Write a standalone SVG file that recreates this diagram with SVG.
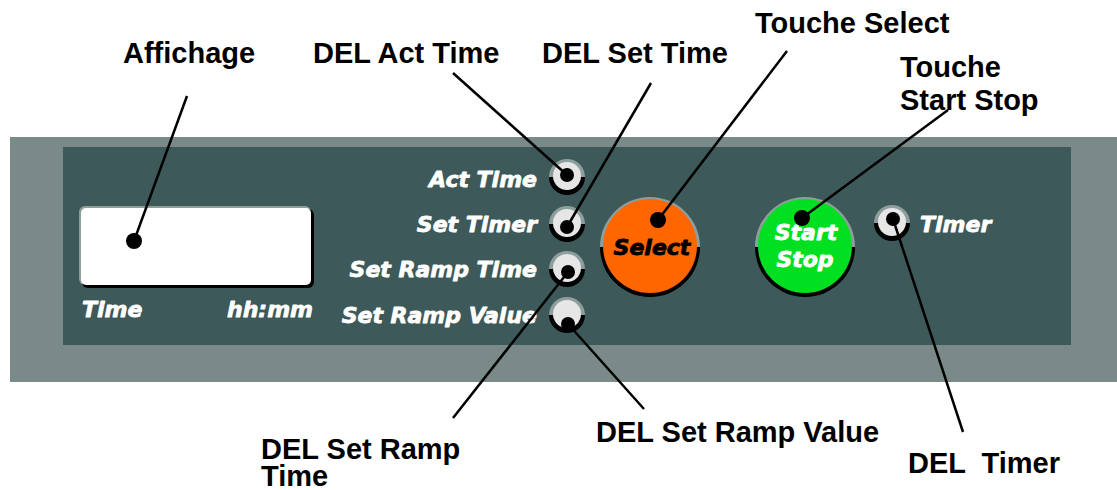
<svg xmlns="http://www.w3.org/2000/svg" width="1117" height="490" viewBox="0 0 1117 490">
<style>
.lbl{font-family:"Liberation Sans",Arial,sans-serif;font-weight:bold;font-size:29px;fill:#000}
.pl{font-family:"DejaVu Sans",sans-serif;font-weight:bold;font-style:oblique;font-size:22px;fill:#fff;stroke:#fff;stroke-width:0.8;stroke-linejoin:round}
.dk{fill:#000;stroke:#000}
.ring{fill:#8e9e9c}
.shadow{fill:#000}
.led{fill:#e6e6e6}
.ld{stroke:#000;stroke-width:2.5;fill:none}
.dot{fill:#000}
</style>
<rect x="0" y="0" width="1117" height="490" fill="#fff"/>
<g id="panel">
<rect x="10" y="137" width="1107" height="245" fill="#798a89"/>
<rect x="63" y="147" width="1008" height="198" fill="#3e5959"/>
</g>
<g id="display">
<rect x="79" y="206" width="232" height="79" rx="6" fill="#8e9e9c"/>
<rect x="82" y="209" width="232" height="79" rx="6" fill="#000"/>
<rect x="81" y="208" width="230" height="77" rx="5" fill="#fff"/>
<text class="pl" x="82" y="317">Time</text>
<text class="pl" x="313" y="317" text-anchor="end">hh:mm</text>
</g>
<g id="led-act-time">
<path class="ring" d="M549 177 A18 18 0 0 1 585 177 Z"/>
<path class="shadow" d="M549 177 A18 18 0 0 0 585 177 Z"/>
<circle class="led" cx="567" cy="176" r="14"/>
<text class="pl" x="537" y="187" text-anchor="end">Act Time</text>
</g>
<g id="led-set-timer">
<path class="ring" d="M549 224 A18 18 0 0 1 585 224 Z"/>
<path class="shadow" d="M549 224 A18 18 0 0 0 585 224 Z"/>
<circle class="led" cx="567" cy="223" r="14"/>
<text class="pl" x="537" y="232" text-anchor="end">Set Timer</text>
</g>
<g id="led-set-ramp-time">
<path class="ring" d="M549 269 A18 18 0 0 1 585 269 Z"/>
<path class="shadow" d="M549 269 A18 18 0 0 0 585 269 Z"/>
<circle class="led" cx="567" cy="268" r="14"/>
<text class="pl" x="537" y="277" text-anchor="end">Set Ramp Time</text>
</g>
<g id="led-set-ramp-value">
<path class="ring" d="M549 315 A18 18 0 0 1 585 315 Z"/>
<path class="shadow" d="M549 315 A18 18 0 0 0 585 315 Z"/>
<circle class="led" cx="567" cy="314" r="14"/>
<text class="pl" x="537" y="323" text-anchor="end">Set Ramp Value</text>
</g>
<g id="btn-select">
<path class="ring" d="M600 247 A50 50 0 0 1 700 247 Z"/>
<path class="shadow" d="M600 247 A50 50 0 0 0 700 247 Z"/>
<circle cx="650" cy="246" r="47" fill="#ff6600"/>
<text class="pl dk" x="652" y="255" text-anchor="middle">Select</text>
</g>
<g id="btn-start-stop">
<path class="ring" d="M755 247 A50 50 0 0 1 855 247 Z"/>
<path class="shadow" d="M755 247 A50 50 0 0 0 855 247 Z"/>
<circle cx="805" cy="246" r="47" fill="#00e020"/>
<text class="pl" x="806" y="240" text-anchor="middle">Start</text>
<text class="pl" x="805" y="267" text-anchor="middle">Stop</text>
</g>
<g id="led-timer">
<path class="ring" d="M874 223 A18 18 0 0 1 910 223 Z"/>
<path class="shadow" d="M874 223 A18 18 0 0 0 910 223 Z"/>
<circle class="led" cx="892" cy="222" r="14"/>
<text class="pl" x="920" y="232">Timer</text>
</g>
<g id="labels">
<text class="lbl" x="123" y="63">Affichage</text>
<text class="lbl" x="313" y="63">DEL Act Time</text>
<text class="lbl" x="542" y="63">DEL Set Time</text>
<text class="lbl" x="755" y="33">Touche Select</text>
<text class="lbl" x="900" y="77"><tspan x="900">Touche</tspan><tspan x="900" dy="33">Start Stop</tspan></text>
<text class="lbl" x="261" y="459"><tspan x="261">DEL Set Ramp</tspan><tspan x="261" dy="27">Time</tspan></text>
<text class="lbl" x="596" y="442">DEL Set Ramp Value</text>
<text class="lbl" x="908" y="473" xml:space="preserve">DEL  Timer</text>
</g>
<g id="connectors">
<line class="ld" x1="187" y1="96" x2="134" y2="241"/>
<line class="ld" x1="453" y1="73" x2="567" y2="175"/>
<line class="ld" x1="651" y1="83" x2="567" y2="227"/>
<line class="ld" x1="787" y1="51" x2="658" y2="220"/>
<line class="ld" x1="948" y1="110" x2="802" y2="218"/>
<line class="ld" x1="453" y1="418" x2="568" y2="272"/>
<line class="ld" x1="644" y1="409" x2="568" y2="324"/>
<line class="ld" x1="963" y1="432" x2="893" y2="219"/>
<circle class="dot" cx="134" cy="241" r="8"/>
<circle class="dot" cx="567" cy="175" r="7"/>
<circle class="dot" cx="567" cy="227" r="7"/>
<circle class="dot" cx="568" cy="272" r="7"/>
<circle class="dot" cx="568" cy="324" r="7"/>
<circle class="dot" cx="658" cy="220" r="8"/>
<circle class="dot" cx="802" cy="218" r="8"/>
<circle class="dot" cx="893" cy="219" r="7"/>
</g>
</svg>
